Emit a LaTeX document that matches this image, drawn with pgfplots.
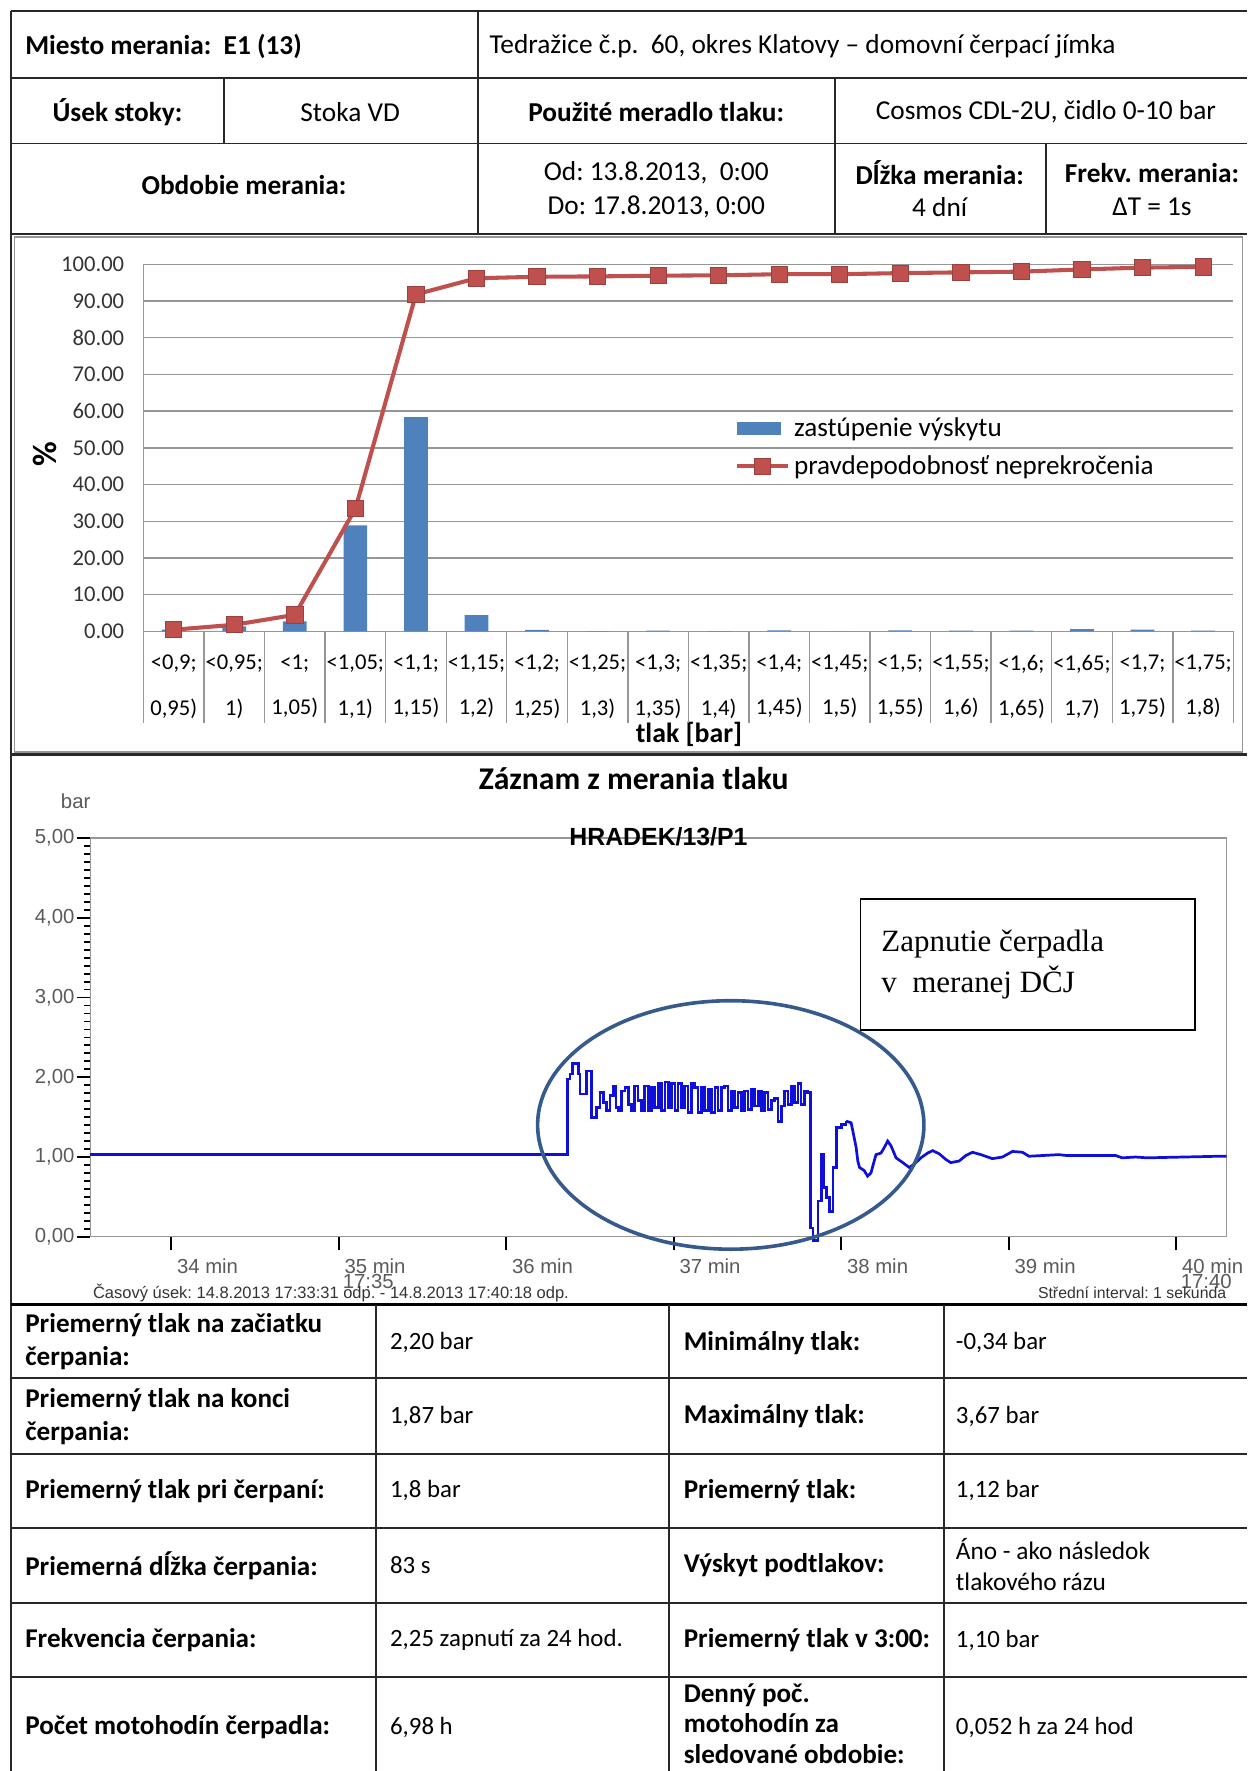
\documentclass[border=0pt]{standalone}
\usepackage{fontspec}
\setmainfont{Carlito}
\newfontfamily\arialf{Liberation Sans}
\newfontfamily\timesf{Liberation Serif}
\usepackage{pgfplots}
\pgfplotsset{compat=1.18}
\definecolor{xblue}{RGB}{79,129,189}
\definecolor{xred}{RGB}{192,80,77}
\definecolor{gridgray}{RGB}{150,150,150}
\definecolor{ellc}{RGB}{55,90,140}
\definecolor{tgray}{RGB}{90,90,90}
\definecolor{sig}{RGB}{15,15,220}
\definecolor{lin}{RGB}{40,40,40}
\newcommand{\tf}{\fontsize{11}{14.5}\selectfont}
\newcommand{\lbf}{\fontsize{12}{14.5}\selectfont\bfseries}
\newcommand{\hf}{\fontsize{12.1}{14.5}\selectfont}
\frenchspacing
\begin{document}
\frenchspacing
\begin{tikzpicture}
\begin{scope}[x=0.5pt,y=-0.5pt]
\path[use as bounding box] (0,0) rectangle (1104,1568);
% ---------- top table
\draw[lin, line width=0.8pt] (10,10) -- (1104,10);
\draw[lin, line width=0.8pt] (10,69) -- (1104,69);
\draw[lin, line width=0.8pt] (10,127) -- (1104,127);
\draw[lin, line width=0.8pt] (10,207) -- (1104,207);
\draw[lin, line width=0.8pt] (10,10) -- (10,1568);
\draw[lin, line width=0.8pt] (423,10) -- (423,207);
\draw[lin, line width=0.8pt] (198,69) -- (198,127);
\draw[lin, line width=0.8pt] (739,69) -- (739,207);
\draw[lin, line width=0.8pt] (926,127) -- (926,207);
\node[anchor=west, inner sep=0pt, font=\hf\bfseries] at (22,41) {Miesto merania:\ \ E1 (13)};
\node[anchor=west, inner sep=0pt, font=\hf] at (433,41) {Tedražice č.p.\ \ 60, okres Klatovy – domovní čerpací jímka};
\node[inner sep=0pt, font=\hf\bfseries] at (104,99) {Úsek stoky:};
\node[inner sep=0pt, font=\hf] at (310,99) {Stoka VD};
\node[inner sep=0pt, font=\hf\bfseries] at (581,99) {Použité meradlo tlaku:};
\node[inner sep=0pt, font=\hf] at (926,99) {Cosmos CDL-2U, čidlo 0-10 bar};
\node[inner sep=0pt, font=\hf\bfseries] at (216,164) {Obdobie merania:};
\node[inner sep=0pt, font=\hf] at (581,153) {Od: 13.8.2013,\ \ 0:00};
\node[inner sep=0pt, font=\hf] at (581,183) {Do: 17.8.2013, 0:00};
\node[inner sep=0pt, font=\hf\bfseries] at (832,153) {Dĺžka merania:};
\node[inner sep=0pt, font=\hf] at (832,183) {4 dní};
\node[inner sep=0pt, font=\hf\bfseries] at (1020,153) {Frekv. merania:};
\node[inner sep=0pt, font=\hf] at (1020,183) {ΔT = 1s};
% ---------- chart 1 frame
\draw[gridgray, line width=0.7pt] (13,210) rectangle (1100,666);
\draw[lin, line width=1.2pt] (10,668) -- (1104,668);
\node[rotate=90, inner sep=0pt, font=\fontsize{15}{17}\selectfont\bfseries] at (40,402) {\%};
\node[inner sep=0pt, font=\fontsize{12.3}{14}\selectfont\bfseries] at (610,650) {tlak [bar]};
% ---------- chart 2 texts
\node[inner sep=0pt, font=\fontsize{14}{16}\selectfont\bfseries] at (561,689) {Záznam z merania tlaku};
\node[inner sep=0pt, font=\arialf\fontsize{9}{11}\selectfont, text=tgray] at (67,709) {bar};
\node[inner sep=0pt, font=\arialf\fontsize{9}{11}\selectfont, text=tgray] at (326,1135) {17:35};
\node[inner sep=0pt, font=\arialf\fontsize{9}{11}\selectfont, text=tgray] at (1068,1135) {17:40};
\node[anchor=west, inner sep=0pt, font=\arialf\fontsize{7.3}{8}\selectfont, text=black!80] at (82,1145) {Časový úsek: 14.8.2013 17:33:31 odp. - 14.8.2013 17:40:18 odp.};
\node[anchor=east, inner sep=0pt, font=\arialf\fontsize{7}{8}\selectfont, text=black!80] at (1086,1145) {Střední interval: 1 sekunda};
% ---------- bottom table
\draw[black, line width=1.6pt] (10,1155) -- (1104,1155);
\foreach \yy in {1220,1287,1353,1419,1485} {\draw[lin, line width=0.9pt] (10,\yy) -- (1104,\yy);}
\foreach \xx in {333,592,836} {\draw[lin, line width=0.8pt] (\xx,1155) -- (\xx,1568);}
\node[anchor=west, align=left, inner sep=0pt, font=\lbf] at (22,1188) {Priemerný tlak na začiatku\\čerpania:};
\node[anchor=west, inner sep=0pt, font=\tf] at (345,1189) {2,20 bar};
\node[anchor=west, inner sep=0pt, font=\lbf] at (605,1189) {Minimálny tlak:};
\node[anchor=west, inner sep=0pt, font=\tf] at (846,1189) {-0,34 bar};
\node[anchor=west, align=left, inner sep=0pt, font=\lbf] at (22,1254) {Priemerný tlak na konci\\čerpania:};
\node[anchor=west, inner sep=0pt, font=\tf] at (345,1254) {1,87 bar};
\node[anchor=west, inner sep=0pt, font=\lbf] at (605,1254) {Maximálny tlak:};
\node[anchor=west, inner sep=0pt, font=\tf] at (846,1254) {3,67 bar};
\node[anchor=west, inner sep=0pt, font=\lbf] at (22,1320) {Priemerný tlak pri čerpaní:};
\node[anchor=west, inner sep=0pt, font=\tf] at (345,1320) {1,8 bar};
\node[anchor=west, inner sep=0pt, font=\lbf] at (605,1320) {Priemerný tlak:};
\node[anchor=west, inner sep=0pt, font=\tf] at (846,1320) {1,12 bar};
\node[anchor=west, inner sep=0pt, font=\lbf] at (22,1386) {Priemerná dĺžka čerpania:};
\node[anchor=west, inner sep=0pt, font=\tf] at (345,1386) {83 s};
\node[anchor=west, inner sep=0pt, font=\lbf] at (605,1386) {Výskyt podtlakov:};
\node[anchor=west, align=left, inner sep=0pt, font=\fontsize{11.2}{13.5}\selectfont] at (846,1385) {Áno - ako následok\\tlakového rázu};
\node[anchor=west, inner sep=0pt, font=\lbf] at (22,1452) {Frekvencia čerpania:};
\node[anchor=west, inner sep=0pt, font=\tf] at (345,1452) {2,25 zapnutí za 24 hod.};
\node[anchor=west, inner sep=0pt, font=\lbf] at (605,1452) {Priemerný tlak v 3:00:};
\node[anchor=west, inner sep=0pt, font=\tf] at (846,1452) {1,10 bar};
\node[anchor=west, inner sep=0pt, font=\lbf] at (22,1529) {Počet motohodín čerpadla:};
\node[anchor=west, inner sep=0pt, font=\tf] at (345,1529) {6,98 h};
\node[anchor=west, align=left, inner sep=0pt, font=\fontsize{12}{13.6}\selectfont\bfseries] at (605,1526) {Denný poč.\\motohodín za\\sledované obdobie:};
\node[anchor=west, inner sep=0pt, font=\tf] at (846,1529) {0,052 h za 24 hod};
\end{scope}

% ================= chart 1
\begin{axis}[
  at={(63.5pt,-279.5pt)}, anchor=south west, scale only axis,
  width=482.5pt, height=162.5pt,
  xmin=-0.5, xmax=17.5, ymin=0, ymax=100, clip=false,
  axis x line*=bottom, axis y line*=left,
  axis line style={draw=gridgray, line width=0.6pt},
  ytick={0,10,...,100}, ymajorgrids, grid style={gridgray, line width=0.6pt},
  major tick length=0pt,
  xtick={0,...,17},
  xticklabels={{<0,9;\\[8pt]0,95)},{<0,95;\\[8pt]1)},{<1;\\[8pt]1,05)},{<1,05;\\[8pt]1,1)},{<1,1;\\[8pt]1,15)},{<1,15;\\[8pt]1,2)},{<1,2;\\[8pt]1,25)},{<1,25;\\[8pt]1,3)},{<1,3;\\[8pt]1,35)},{<1,35;\\[8pt]1,4)},{<1,4;\\[8pt]1,45)},{<1,45;\\[8pt]1,5)},{<1,5;\\[8pt]1,55)},{<1,55;\\[8pt]1,6)},{<1,6;\\[8pt]1,65)},{<1,65;\\[8pt]1,7)},{<1,7;\\[8pt]1,75)},{<1,75;\\[8pt]1,8)}},
  xticklabel style={align=center, font=\fontsize{10}{12}\selectfont, yshift=-7pt},
  yticklabel style={font=\fontsize{10}{12}\selectfont, text=black!80, xshift=-5pt,
    /pgf/number format/fixed, /pgf/number format/fixed zerofill, /pgf/number format/precision=2},
  /pgf/number format/assume math mode=true,
  legend style={at={(0.542,0.597)}, anchor=north west, draw=none, fill=none,
    font=\fontsize{12}{13}\selectfont, row sep=3pt, inner sep=0pt, cells={anchor=west}},
]
\addplot[ybar, bar width=10.5pt, bar shift=0pt, fill=xblue, draw=none,
  legend image code/.code={\fill[xblue] (0pt,-3pt) rectangle (19.5pt,3pt);}]
  coordinates {(0,0.45)(1,1.35)(2,2.7)(3,28.9)(4,58.4)(5,4.4)(6,0.4)(7,0.1)(8,0.2)(9,0.1)(10,0.3)(11,0.0)(12,0.3)(13,0.2)(14,0.2)(15,0.6)(16,0.5)(17,0.2)};
\addlegendentry{zastúpenie výskytu}
\addplot[xred, line width=1.8pt, mark=square*, mark size=3.6pt, mark options={fill=xred, draw=xred!80!black, line width=0.4pt},
  legend image code/.code={\draw[xred, line width=1.8pt] (0pt,0pt) -- (22.5pt,0pt);
     \draw[mark=square*, mark size=3.6pt, mark options={fill=xred, draw=xred!80!black, line width=0.4pt}] plot coordinates {(11.25pt,0pt)};}]
  coordinates {(0,0.45)(1,1.8)(2,4.5)(3,33.4)(4,91.8)(5,96.2)(6,96.6)(7,96.7)(8,96.9)(9,97.0)(10,97.3)(11,97.3)(12,97.6)(13,97.8)(14,98.0)(15,98.6)(16,99.1)(17,99.3)};
\addlegendentry{pravdepodobnosť neprekročenia}
\pgfplotsinvokeforeach{-0.5,0.5,...,17.5}{\draw[gridgray, line width=0.6pt] (axis cs:#1,0) -- ([yshift=-40.5pt]axis cs:#1,0);}
\end{axis}

% ================= chart 2
\begin{axis}[
  at={(40pt,-547.5pt)}, anchor=south west, scale only axis,
  width=503pt, height=176.5pt,
  xmin=2011, xmax=2418, ymin=0, ymax=5, clip=false,
  axis line style={draw=gridgray, line width=0.6pt},
  xtick={2040,2100,2160,2220,2280,2340,2400},
  xticklabels={34 min,35 min,36 min,37 min,38 min,39 min,40 min},
  ytick={0,1,2,3,4,5}, minor y tick num=9,
  tick align=outside, xtick pos=bottom, ytick pos=left,
  major tick length=6pt, minor tick length=3pt,
  tick style={black, line width=0.8pt},
  xticklabel style={anchor=north west, xshift=-1pt, font=\arialf\fontsize{9}{11}\selectfont, text=tgray},
  yticklabel style={font=\arialf\fontsize{9}{11}\selectfont, text=tgray, xshift=2.5pt,
    /pgf/number format/fixed, /pgf/number format/fixed zerofill, /pgf/number format/precision=2, /pgf/number format/use comma},
  /pgf/number format/assume math mode=true,
]
\addplot[const plot, sig, line width=1.2pt] coordinates {
(2011.0,1.03)(2181.8,1.98)(2182.8,2.04)(2183.7,2.17)(2185.8,2.04)(2186.4,1.79)(2188.8,2.08)
(2190.6,1.50)(2192.3,1.62)(2193.5,1.81)(2194.7,1.68)(2195.9,1.58)(2197.1,1.77)(2198.3,1.89)
(2199.3,1.62)(2200.1,1.58)(2201.3,1.83)(2202.5,1.87)(2203.7,1.66)(2204.9,1.58)(2206.0,1.89)
(2207.2,1.71)(2208.4,1.58)(2209.6,1.89)(2210.8,1.58)(2212.0,1.87)(2213.2,1.62)(2214.4,1.92)
(2215.6,1.58)(2216.8,1.94)(2218.0,1.62)(2219.2,1.92)(2220.4,1.58)(2221.5,1.92)(2222.7,1.62)
(2223.9,1.89)(2225.1,1.56)(2226.3,1.92)(2227.5,1.87)(2228.7,1.56)(2229.9,1.87)(2231.1,1.58)
(2232.3,1.85)(2233.5,1.56)(2234.7,1.87)(2235.8,1.58)(2237.0,1.87)(2238.2,1.89)(2239.4,1.58)
(2240.6,1.83)(2241.8,1.62)(2243.0,1.81)(2244.2,1.58)(2245.4,1.83)(2246.6,1.60)(2247.8,1.85)
(2249.0,1.64)(2250.2,1.83)(2251.3,1.58)(2252.5,1.81)(2253.7,1.60)(2254.9,1.71)(2256.1,1.73)
(2257.3,1.45)(2258.5,1.64)(2259.7,1.83)(2260.9,1.66)(2262.1,1.89)(2263.3,1.68)(2264.5,1.92)
(2265.6,1.66)(2266.8,1.83)(2268.0,1.81)(2268.9,0.11)(2269.8,-0.05)(2271.6,0.45)(2272.8,1.03)
(2273.6,0.62)(2274.6,0.49)(2275.8,0.32)(2277.0,0.87)(2278.2,1.37)(2280.0,1.41)(2281.7,1.45)};
\addplot[sig, line width=1.2pt] coordinates {
(2281.7,1.45)(2283.5,1.43)(2284.1,1.33)(2285.3,1.12)(2285.9,0.95)(2286.5,0.87)(2288.2,0.83)
(2289.4,0.76)(2290.6,0.80)(2292.4,1.03)(2294.2,1.05)(2295.4,1.12)(2296.6,1.20)(2297.8,1.14)
(2299.6,0.99)(2302.0,0.93)(2304.3,0.87)(2306.1,0.91)(2308.5,0.99)(2310.9,1.05)(2312.7,1.08)
(2315.1,1.04)(2317.4,0.97)(2319.2,0.93)(2322.2,0.95)(2324.6,1.02)(2327.0,1.06)(2330.0,1.03)
(2334.1,0.98)(2337.7,1.00)(2341.3,1.07)(2344.9,1.06)(2347.2,1.01)(2358.0,1.03)(2360.4,1.02)
(2378.2,1.02)(2380.6,0.99)(2385.4,1.00)(2389.6,0.99)(2415.2,1.01)(2418.0,1.01)};
\end{axis}

\begin{scope}[x=0.5pt,y=-0.5pt]
\node[inner sep=0pt, font=\arialf\fontsize{11}{13}\selectfont\bfseries] at (583,741) {HRADEK/13/P1};
\draw[ellc, line width=1.6pt] (647,996) ellipse [x radius=171, y radius=110];
\draw[black, line width=0.6pt, fill=white] (762,796) rectangle (1058,912);
\node[anchor=west, inner sep=0pt, font=\timesf\fontsize{13.7}{15}\selectfont] at (780,836) {Zapnutie čerpadla};
\node[anchor=west, inner sep=0pt, font=\timesf\fontsize{13.7}{15}\selectfont] at (780,870) {v\ \ meranej DČJ};
\end{scope}
\end{tikzpicture}
\end{document}
